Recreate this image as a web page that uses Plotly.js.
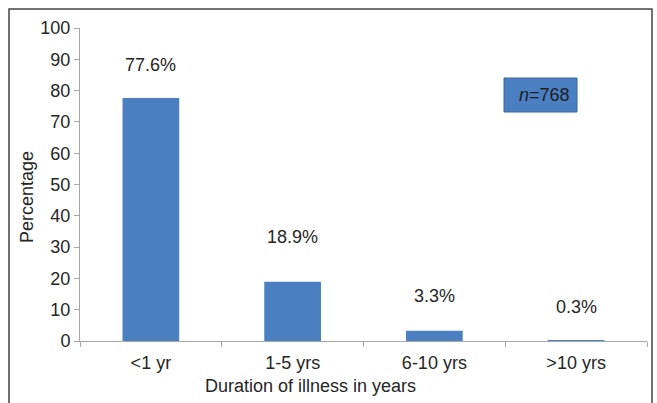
<!DOCTYPE html>
<html>
<head>
<meta charset="utf-8">
<script src="https://cdn.plot.ly/plotly-3.0.1.min.js"></script>
<style>
  html, body { margin: 0; padding: 0; background: #ffffff; }
  #chart { width: 657px; height: 403px; }
</style>
</head>
<body>
<div id="chart"></div>
<script>
// Duration of illness (share of patients, %)
const categories = ['<1 yr', '1-5 yrs', '6-10 yrs', '>10 yrs'];
const percentages = [77.6, 18.9, 3.3, 0.3];
const sampleSize = 768;
const yTicks = [0, 10, 20, 30, 40, 50, 60, 70, 80, 90, 100];

const barColor = '#4a7fc1';
const axisColor = '#a6a6a6';
const textColor = '#262626';
const font = { family: 'Liberation Sans, Arial, sans-serif', size: 18, color: textColor };

// Value labels sit above each bar; vertical placement per label (axis units)
const labelY = [88.2, 33.2, 14.4, 10.9];

const trace = {
  type: 'bar',
  x: categories,
  y: percentages,
  marker: { color: barColor, line: { width: 0 } },
  hoverinfo: 'skip'
};

const valueLabels = categories.map((c, i) => ({
  x: c, y: labelY[i], xref: 'x', yref: 'y',
  text: percentages[i].toFixed(1) + '%',
  showarrow: false, font: font
}));

const layout = {
  width: 657, height: 403,
  margin: { l: 80, r: 10, t: 28, b: 62 },
  paper_bgcolor: '#ffffff', plot_bgcolor: '#ffffff',
  font: font,
  bargap: 0.6,
  showlegend: false,
  xaxis: {
    type: 'category',
    showline: true, linecolor: axisColor, linewidth: 1,
    ticks: 'outside', tickson: 'boundaries', ticklen: 5, tickcolor: axisColor,
    ticklabelstandoff: 5,
    showgrid: false, zeroline: false,
    tickfont: font
  },
  yaxis: {
    range: [0, 100], tickvals: yTicks,
    showline: true, linecolor: axisColor, linewidth: 1,
    ticks: 'outside', ticklen: 5, tickcolor: axisColor,
    showgrid: false, zeroline: false,
    tickfont: font
  },
  shapes: [
    // outer frame
    { type: 'rect', xref: 'paper', yref: 'paper',
      x0: -0.1252, x1: 1.0088, y0: -0.3, y1: 1.0607,
      line: { color: '#444444', width: 1.5 }, fillcolor: 'rgba(0,0,0,0)', layer: 'below' },
    // sample-size box
    { type: 'rect', xref: 'paper', yref: 'paper',
      x0: (504 - 80) / 567, x1: (577 - 80) / 567,
      y0: (341 - 112) / 313, y1: (341 - 78) / 313,
      line: { color: '#3a6599', width: 1 }, fillcolor: barColor }
  ],
  annotations: valueLabels.concat([
    { xref: 'paper', yref: 'paper',
      x: (572 - 80) / 567, y: (341 - 95) / 313, xanchor: 'right', yanchor: 'middle',
      text: '<i>n</i>=' + sampleSize, showarrow: false,
      font: { family: font.family, size: 18, color: '#1e1e1e' } },
    { xref: 'paper', yref: 'paper',
      x: (310 - 80) / 567, y: (341 - 386) / 313, xanchor: 'center', yanchor: 'middle',
      text: 'Duration of illness in years', showarrow: false, font: font },
    { xref: 'paper', yref: 'paper',
      x: (27 - 80) / 567, y: (341 - 197) / 313, xanchor: 'center', yanchor: 'middle',
      text: 'Percentage', textangle: -90, showarrow: false, font: font }
  ])
};

Plotly.newPlot('chart', [trace], layout, { displayModeBar: false, staticPlot: true });
</script>
</body>
</html>
